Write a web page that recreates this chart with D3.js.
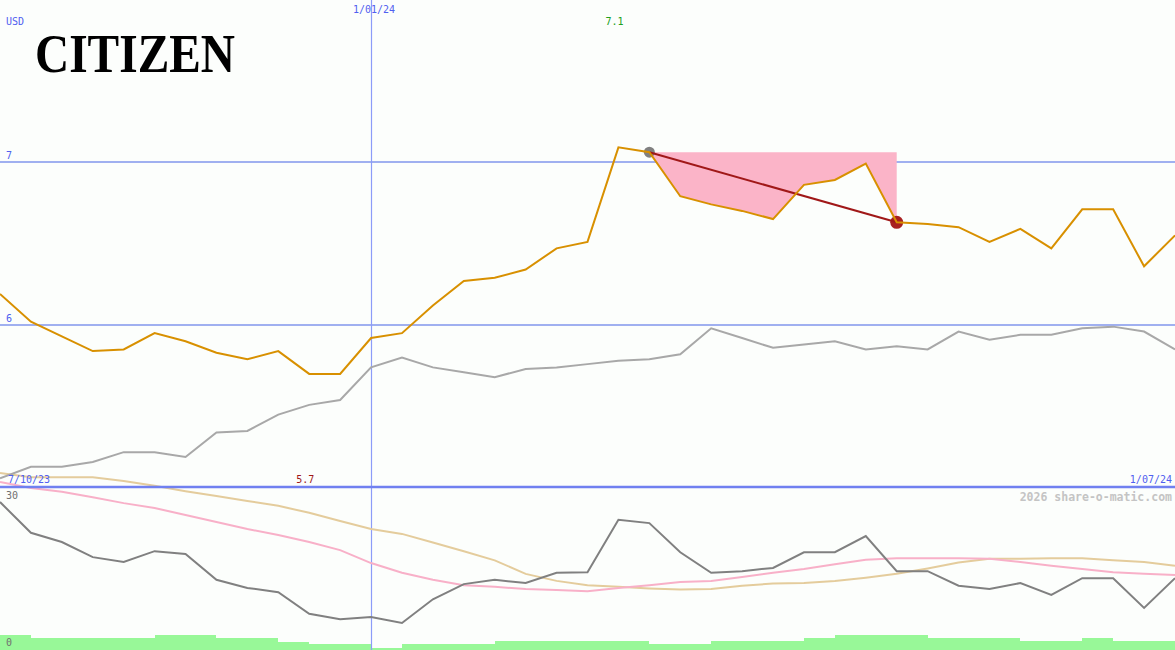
<!DOCTYPE html>
<html>
<head>
<meta charset="utf-8">
<script src="https://cdn.jsdelivr.net/npm/d3@7/dist/d3.min.js"></script>
<style>
  html, body { margin: 0; padding: 0; background: #fcfefc; }
  svg { display: block; }
</style>
</head>
<body>
<svg id="chart" width="1175" height="650"></svg>
<script>
// ---------- data ----------
const dates = [
  "2023-10-09","2023-10-16","2023-10-23","2023-10-30","2023-11-06","2023-11-13","2023-11-20","2023-11-27",
  "2023-12-04","2023-12-11","2023-12-18","2023-12-25","2024-01-01","2024-01-08","2024-01-15","2024-01-22",
  "2024-01-29","2024-02-05","2024-02-12","2024-02-19","2024-02-26","2024-03-04","2024-03-11","2024-03-18",
  "2024-03-25","2024-04-01","2024-04-08","2024-04-15","2024-04-22","2024-04-29","2024-05-06","2024-05-13",
  "2024-05-20","2024-05-27","2024-06-03","2024-06-10","2024-06-17","2024-06-24","2024-07-01"
];
const price = [
  6.19, 6.02, 5.93, 5.84, 5.85, 5.95, 5.90, 5.83, 5.79, 5.84, 5.70, 5.70, 5.92,
  5.95, 6.12, 6.27, 6.29, 6.34, 6.47, 6.51, 7.09, 7.06, 6.79, 6.74, 6.70, 6.65,
  6.86, 6.89, 6.99, 6.63, 6.62, 6.60, 6.51, 6.59, 6.47, 6.71, 6.71, 6.36, 6.55
];
const compare = [
  5.06, 5.13, 5.13, 5.16, 5.22, 5.22, 5.19, 5.34, 5.35, 5.45, 5.51, 5.54, 5.74,
  5.80, 5.74, 5.71, 5.68, 5.73, 5.74, 5.76, 5.78, 5.79, 5.82, 5.98, 5.92, 5.86,
  5.88, 5.90, 5.85, 5.87, 5.85, 5.96, 5.91, 5.94, 5.94, 5.98, 5.99, 5.96, 5.85
];
const oscillator = [
  27.4, 21.7, 20.0, 17.2, 16.3, 18.3, 17.8, 13.0, 11.5, 10.7, 6.7, 5.7, 6.1,
  5.0, 9.4, 12.2, 13.0, 12.4, 14.3, 14.4, 24.1, 23.5, 18.1, 14.3, 14.6, 15.2,
  18.1, 18.1, 21.1, 14.6, 14.6, 11.9, 11.3, 12.4, 10.2, 13.3, 13.3, 7.8, 13.3
];
const avgFast = [
  31.1, 30.0, 29.3, 28.3, 27.2, 26.3, 25.0, 23.7, 22.4, 21.3, 20.0, 18.5, 16.1,
  14.3, 13.0, 12.0, 11.7, 11.3, 11.1, 10.9, 11.5, 12.0, 12.6, 12.8, 13.5, 14.3,
  15.0, 15.9, 16.7, 17.0, 17.0, 17.0, 16.9, 16.3, 15.6, 15.0, 14.4, 14.1, 13.9
];
const avgSlow = [
  32.8, 32.0, 32.0, 32.0, 31.3, 30.4, 29.4, 28.5, 27.6, 26.7, 25.4, 23.9, 22.4,
  21.5, 19.9, 18.3, 16.6, 14.1, 12.8, 12.0, 11.7, 11.4, 11.2, 11.3, 11.9, 12.3,
  12.4, 12.8, 13.4, 14.1, 15.1, 16.2, 16.9, 16.9, 17.0, 17.0, 16.6, 16.3, 15.6
];
const volume = [
  15, 12, 12, 12, 12, 15, 15, 12, 12, 8, 6, 6, 2,
  6, 6, 6, 9, 9, 9, 9, 9, 6, 6, 9, 9, 9,
  12, 15, 15, 15, 12, 12, 12, 9, 9, 12, 9, 9
];
const priceTicks = [6, 7];
const oscTicks = [0, 30];
const dateLabels = ["7/10/23", "1/01/24", "1/07/24"];
const title = "CITIZEN";
const currency = "USD";
const credit = "2026 share-o-matic.com";
const tradeStart = 21, tradeEnd = 29;

// ---------- setup ----------
const W = 1175, H = 650;
const MONO = "'DejaVu Sans Mono', monospace";
const svg = d3.select("#chart");
const parse = d3.utcParse("%Y-%m-%d");
const t = dates.map(parse);

const x = d3.scaleUtc().domain([t[0], t[t.length - 1]]).range([0, W]);
const y = d3.scaleLinear().domain([6, 7]).range([325, 162]);
const y2 = d3.scaleLinear().domain([0, 30]).range([650, 488]);
const yv = d3.scaleLinear().domain([0, 15]).range([650, 635]);

svg.append("rect").attr("width", W).attr("height", H).attr("fill", "#fcfefc");

// volume bars
svg.append("g").selectAll("rect").data(volume).join("rect")
  .attr("x", (d, i) => x(t[i]))
  .attr("width", (d, i) => x(t[i + 1]) - x(t[i]))
  .attr("y", d => yv(d))
  .attr("height", d => 650 - yv(d))
  .attr("fill", "#98f898")
  .attr("shape-rendering", "crispEdges");

// price grid lines
svg.append("g").selectAll("line").data(priceTicks).join("line")
  .attr("x1", 0).attr("x2", W)
  .attr("y1", d => y(d)).attr("y2", d => y(d))
  .attr("stroke", "#a0b0f0").attr("stroke-width", 2);

// vertical date line
const vx = Math.round(x(t[12])) + 0.5;
svg.append("line")
  .attr("x1", vx).attr("x2", vx)
  .attr("y1", 0).attr("y2", H)
  .attr("stroke", "#8c9cf8").attr("stroke-width", 1.2);

// trade shaded region
const startVal = price[tradeStart];
const idx = d3.range(tradeStart, tradeEnd + 1);
svg.append("path")
  .datum(idx)
  .attr("d", d3.area().x(i => x(t[i])).y0(y(startVal)).y1(i => y(price[i])))
  .attr("fill", "#fbb4c8");

// lower panel lines
const lineOf = (arr, sc) => d3.line().x((d, i) => x(t[i])).y(d => sc(d))(arr);
svg.append("path").attr("d", lineOf(avgSlow, y2)).attr("fill", "none")
  .attr("stroke", "#e4cc9c").attr("stroke-width", 2);
svg.append("path").attr("d", lineOf(avgFast, y2)).attr("fill", "none")
  .attr("stroke", "#f8b0c8").attr("stroke-width", 2);
svg.append("path").attr("d", lineOf(oscillator, y2)).attr("fill", "none")
  .attr("stroke", "#808080").attr("stroke-width", 2);

// divider line
svg.append("line").attr("x1", 0).attr("x2", W).attr("y1", 487).attr("y2", 487)
  .attr("stroke", "#7080f0").attr("stroke-width", 2.5);

// comparison line
svg.append("path").attr("d", lineOf(compare, y)).attr("fill", "none")
  .attr("stroke", "#a8a8a8").attr("stroke-width", 2);

// trade markers
svg.append("circle").attr("cx", x(t[tradeStart])).attr("cy", y(startVal)).attr("r", 5.5)
  .attr("fill", "#808080");
svg.append("circle").attr("cx", x(t[tradeEnd])).attr("cy", y(price[tradeEnd])).attr("r", 6.5)
  .attr("fill", "#a82020");
svg.append("line")
  .attr("x1", x(t[tradeStart])).attr("y1", y(startVal))
  .attr("x2", x(t[tradeEnd])).attr("y2", y(price[tradeEnd]))
  .attr("stroke", "#a01818").attr("stroke-width", 2);

// price line
svg.append("path").attr("d", lineOf(price, y)).attr("fill", "none")
  .attr("stroke", "#d89000").attr("stroke-width", 2);

// ---------- texts ----------
const blue = "#5060f0";
const txt = (xx, yy, s, fill, size, anchor) => svg.append("text")
  .attr("x", xx).attr("y", yy)
  .style("font-family", MONO).style("font-size", size + "px")
  .attr("text-anchor", anchor || "start").attr("fill", fill).text(s);

txt(6, 25, currency, blue, 10);
priceTicks.forEach(d => txt(6, y(d) - 3, d, blue, 10));

svg.append("text").attr("x", 35).attr("y", 72)
  .style("font-family", "'Liberation Serif', 'DejaVu Serif', serif")
  .style("font-weight", "bold").style("font-size", "54px")
  .attr("textLength", 200).attr("lengthAdjust", "spacingAndGlyphs")
  .attr("fill", "#000").text(title);

txt(x(t[12]) + 3, 13, dateLabels[1], blue, 10, "middle");
txt(8, 483, dateLabels[0], blue, 10);
txt(1172, 483, dateLabels[2], blue, 10, "end");

const maxI = d3.maxIndex(price), minI = d3.minIndex(price);
txt(x(t[maxI]) - 4, 25, d3.format(".1f")(price[maxI]), "#20a020", 10, "middle");
txt(x(t[minI]) - 4, 483, d3.format(".1f")(price[minI]), "#a01818", 10, "middle");

txt(6, 499, oscTicks[1], "#707070", 10);
txt(6, 646, oscTicks[0], "#707070", 10);

txt(1172, 501, credit, "#c4c4c4", 11.5, "end").style("font-weight", "bold");
</script>
</body>
</html>
